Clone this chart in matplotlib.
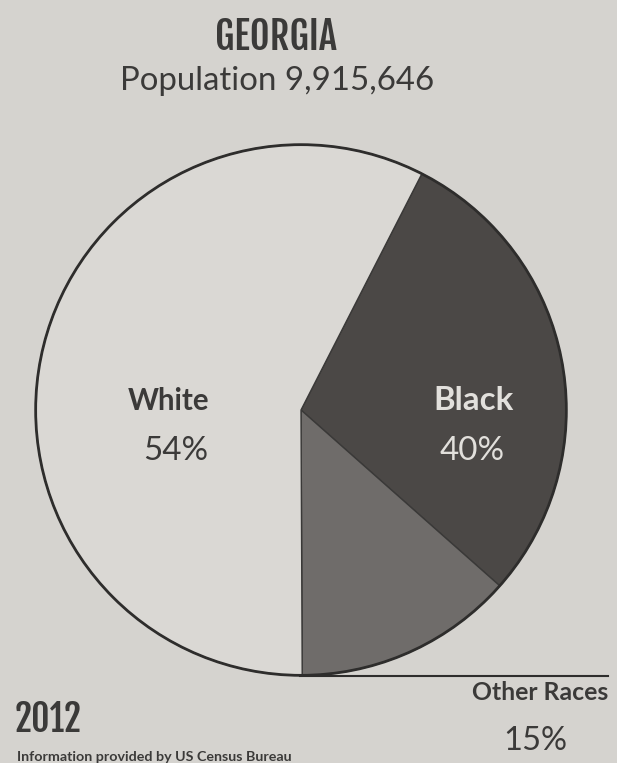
import matplotlib
matplotlib.use("Agg")
import matplotlib.pyplot as plt
from matplotlib.patches import Circle

# Data (slice sizes as drawn in the picture; labels as printed)
categories = ["Black", "Other Races", "White"]
slice_sizes = [29.0, 13.4, 57.6]
printed_pct = ["40%", "15%", "54%"]
title = "GEORGIA"
subtitle = "Population 9,915,646"
year = "2012"
source = "Information provided by US Census Bureau"

bg = "#d5d3cf"
slice_colors = ["#4b4846", "#6f6c6a", "#dad8d4"]
ink = "#3b3a39"
light_ink = "#e2e0dc"

W, H = 617, 763
fig = plt.figure(figsize=(W / 100, H / 100), dpi=100)
fig.patch.set_facecolor(bg)

cx, cy, r = 301, 410, 268
ax = fig.add_axes([(cx - r) / W, 1 - (cy + r) / H, 2 * r / W, 2 * r / H])
ax.set_facecolor("none")
ax.pie(slice_sizes, colors=slice_colors, startangle=62.9, counterclock=False,
       radius=1, wedgeprops=dict(edgecolor="#3a3938", linewidth=1.0))
ax.add_patch(Circle((0, 0), 1, fill=False, edgecolor="#2e2d2c", linewidth=2.0))
ax.set_xlim(-1.01, 1.01)
ax.set_ylim(-1.01, 1.01)
ax.set_aspect("equal")
ax.axis("off")

# bottom rule line
fig.add_artist(plt.Line2D([300 / W, 608 / W], [1 - 675.5 / H, 1 - 675.5 / H],
                          color="#2e2d2c", linewidth=1.5))

cond = ["Fjalla One", "PT Sans Narrow", "DejaVu Sans"]
body = ["Lato", "Roboto", "DejaVu Sans"]

renderer = fig.canvas.get_renderer()

def fit_text(left, right, baseline, s, family, weight="normal", color=ink):
    t = fig.text((left + right) / 2 / W, 1 - baseline / H, s, ha="center",
                 va="baseline", fontsize=20, family=family, fontweight=weight,
                 color=color)
    w = t.get_window_extent(renderer).width
    t.set_fontsize(20 * (right - left) / w)
    return t

fit_text(215, 337, 50, title, cond, "bold")
fit_text(120, 435, 90, subtitle, body, "normal")
fit_text(128, 210, 410, categories[2], body, "bold")
fit_text(143, 208, 460, printed_pct[2], body, "normal")
fit_text(433, 513, 410, categories[0], body, "bold", light_ink)
fit_text(440, 505, 460, printed_pct[0], body, "normal", light_ink)
fit_text(472, 608, 700, categories[1], body, "bold")
fit_text(503, 567, 750, printed_pct[1], body, "normal")
fit_text(15, 82, 732, year, cond, "bold")
fit_text(17, 292, 761, source, body, "bold")

fig.savefig("out.png", dpi=100, facecolor=bg)
